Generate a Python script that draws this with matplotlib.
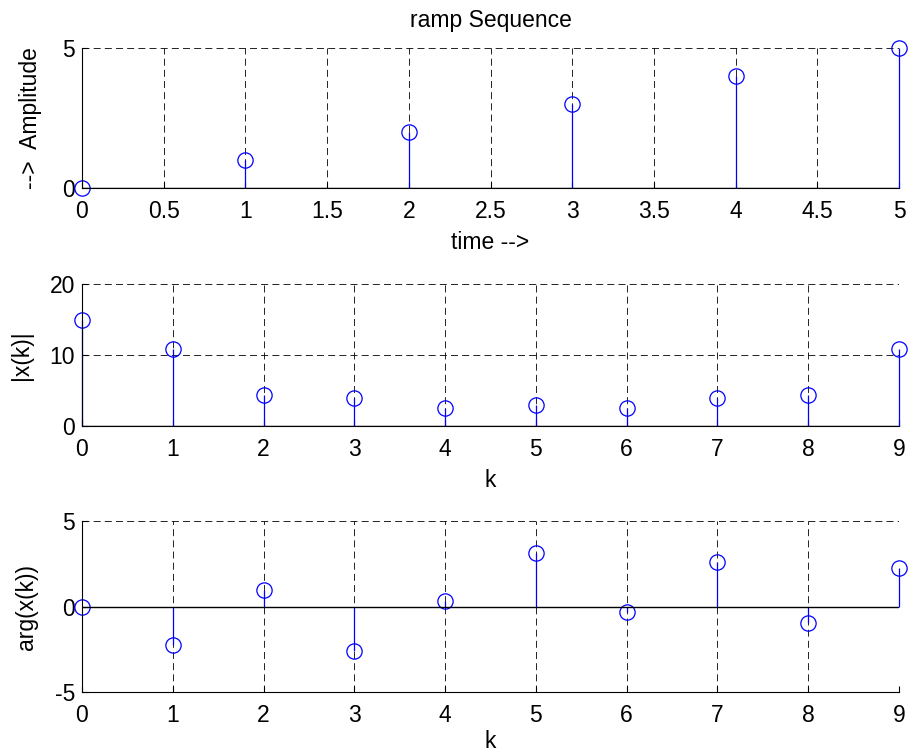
import matplotlib
matplotlib.use("Agg")
import matplotlib.pyplot as plt

# ramp sequence
n = [0, 1, 2, 3, 4, 5]
ramp = [0, 1, 2, 3, 4, 5]

# DFT (N=10) magnitude and phase
k = [0, 1, 2, 3, 4, 5, 6, 7, 8, 9]
mag = [15.0, 10.9, 4.4, 3.9, 2.6, 3.0, 2.6, 3.9, 4.4, 10.9]
phase = [0.0, -2.28, 0.98, -2.6, 0.32, 3.14, -0.32, 2.6, -0.98, 2.28]

plt.rcParams['font.family'] = ['Liberation Sans', 'DejaVu Sans']
plt.rcParams['font.size'] = 16.5

fig = plt.figure(figsize=(9.08, 7.55), dpi=100)
W, H = 908.0, 755.0

def make_axes(left, top, right, bottom):
    return fig.add_axes([left / W, 1 - bottom / H, (right - left) / W, (bottom - top) / H])

def style(ax, xlim, ylim, xt, yt):
    ax.set_xlim(xlim)
    ax.set_ylim(ylim)
    ax.set_xticks(xt)
    ax.set_yticks(yt)
    ax.set_xticklabels([('%g' % v) for v in xt])
    ax.set_yticklabels([('%g' % v) for v in yt])
    ax.spines['top'].set_visible(False)
    ax.spines['right'].set_visible(False)
    ax.spines['left'].set_linewidth(0.8)
    ax.spines['bottom'].set_linewidth(0.8)
    ax.tick_params(direction='in', length=4, width=0.8)
    ax.tick_params(axis='x', pad=8.5)
    ax.tick_params(axis='y', pad=5)
    ax.grid(True, color='black', linestyle=(0, (8.4, 5)), linewidth=0.6)
    ax.set_axisbelow(True)

def stem(ax, x, y):
    ml, sl, bl = ax.stem(x, y, linefmt='b-', markerfmt='bo', basefmt='k-')
    ml.set_markerfacecolor('none')
    ml.set_markeredgecolor('#0000ff')
    ml.set_markersize(11)
    ml.set_markeredgewidth(0.9)
    ml.set_clip_on(False)
    sl.set_linewidth(0.9)
    sl.set_color('#0000ff')
    sl.set_clip_on(False)
    bl.set_linewidth(1.0)
    bl.set_color('black')

ax1 = make_axes(82, 48, 899, 188)
stem(ax1, n, ramp)
style(ax1, (0, 5), (0, 5), [0, 0.5, 1, 1.5, 2, 2.5, 3, 3.5, 4, 4.5, 5], [0, 5])
ax1.set_title('ramp Sequence', fontsize=16.5, pad=15)
ax1.set_xlabel('time -->', labelpad=6)
ax1.set_ylabel('-->  Amplitude')
ax1.yaxis.set_label_coords(-0.049, 0.5)

ax2 = make_axes(82, 284, 899, 426)
stem(ax2, k, mag)
style(ax2, (0, 9), (0, 20), k, [0, 10, 20])
ax2.set_xlabel('k', labelpad=6)
ax2.set_ylabel('|x(k)|')
ax2.yaxis.set_label_coords(-0.060, 0.5)

ax3 = make_axes(82, 521, 899, 692)
stem(ax3, k, phase)
style(ax3, (0, 9), (-5, 5), k, [-5, 0, 5])
ax3.set_xlabel('k', labelpad=2.5)
ax3.set_ylabel('arg(x(k))')
ax3.yaxis.set_label_coords(-0.054, 0.5)

fig.savefig('out.png', dpi=100, facecolor='white')
